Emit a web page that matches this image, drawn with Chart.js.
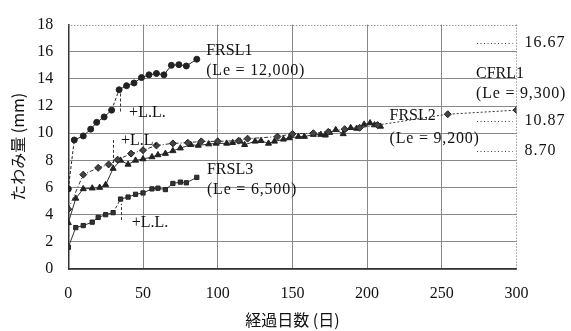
<!DOCTYPE html>
<html><head><meta charset="utf-8">
<script src="https://cdn.jsdelivr.net/npm/chart.js@4/dist/chart.umd.min.js"></script>
<style>html,body{margin:0;padding:0;background:#fff;}#wrap{width:571px;height:331px;}</style>
</head><body><div id="wrap"><canvas id="c" width="571" height="331"></canvas></div>
<script>
// ---- data (days, deflection mm) ----
const xTicks = [0, 50, 100, 150, 200, 250, 300];
const yTicks = [0, 2, 4, 6, 8, 10, 12, 14, 16, 18];

const frsl1Days = [0, 4, 10, 15, 19, 24, 29, 34, 39, 44, 49, 54, 59, 64, 69, 74, 79, 86];
const frsl1Vals = [5.9, 9.5, 9.8, 10.3, 10.8, 11.2, 11.7, 13.2, 13.5, 13.7, 14.1, 14.3, 14.4, 14.3, 15.0, 15.05, 14.95, 15.45];

const frsl3Days = [0, 5, 10, 16, 20, 25, 30, 35, 40, 45, 50, 56, 60, 65, 70, 75, 79, 86];
const frsl3Vals = [1.6, 3.05, 3.2, 3.45, 3.8, 4.0, 4.15, 5.15, 5.3, 5.5, 5.6, 5.9, 5.95, 5.85, 6.3, 6.4, 6.35, 6.75];

const frsl2Days = [0, 5, 10, 16, 21, 25, 30, 35, 40, 45, 50, 56, 60, 65, 70, 75, 82, 87, 94, 99, 106, 110, 115, 118, 125, 129, 134, 138, 144, 148, 154, 158, 164, 169, 172, 175, 179, 184, 189, 193, 198, 202, 205, 209];
const frsl2Vals = [3.4, 5.2, 5.9, 5.95, 6.0, 6.2, 7.4, 8.0, 7.7, 8.0, 8.1, 8.25, 8.4, 8.5, 8.7, 8.9, 9.15, 9.1, 9.2, 9.25, 9.25, 9.3, 9.4, 9.15, 9.4, 9.45, 9.25, 9.4, 9.55, 9.65, 9.75, 9.75, 9.9, 9.9, 9.85, 10.05, 10.25, 9.95, 10.4, 10.35, 10.65, 10.75, 10.6, 10.5];

const cfrl1Days = [0, 10, 20, 27, 33, 42, 50, 59, 70, 80, 89, 100, 114, 120, 140, 150, 164, 174, 185, 195, 207, 254, 300];
const cfrl1Vals = [4.4, 6.95, 7.45, 7.7, 8.05, 8.5, 8.75, 9.1, 9.25, 9.3, 9.4, 9.4, 9.45, 9.6, 9.75, 9.95, 10.0, 10.1, 10.3, 10.4, 10.6, 11.4, 11.7];

const seriesNames = ['FRSL1', 'FRSL2', 'FRSL3', 'CFRL1'];
const leLabels = ['(Le = 12,000)', '(Le = 9,200)', '(Le = 6,500)', '(Le = 9,300)'];

const refValues = [16.67, 10.87, 8.70];
const refLabels = ['16.67', '10.87', '8.70'];

const llLabel = '+L.L.';

const xTitle = '経過日数 (日)';
const yTitle = 'たわみ量 (mm)';

// ---- annotation placement (data coordinates) ----
const namePos = [[92.3, 16.04, 14.58], [215, 11.32, 9.62], [92.8, 7.29, 5.83], [272.9, 14.38, 12.92]];
const llPos = [ // [lineDay, fromVal, toVal, textDay, textVal]
  [34.7, 11.6, 12.95, 40.7, 11.5],
  [30.0, 7.45, 9.5, 35.3, 9.45],
  [35.3, 3.6, 4.8, 42.4, 3.4]
];
const refSpan = [273.6, 297.4];

const pts = (d, v) => d.map((x, i) => ({x, y: v[i]}));
const SERIF = "'Liberation Serif', 'DejaVu Serif', serif";
const CJK = "'Noto Sans CJK JP', sans-serif";

const annot = {
  id: 'annot',
  beforeDatasetsDraw(chart) {
    const {ctx, chartArea: a} = chart;
    ctx.save();
    ctx.strokeStyle = '#666';
    ctx.lineWidth = 1;
    ctx.setLineDash([1, 2]);
    ctx.beginPath();
    ctx.moveTo(a.left, Math.round(a.top) + 0.5);
    ctx.lineTo(a.right, Math.round(a.top) + 0.5);
    ctx.moveTo(Math.round(a.right) - 0.5, a.top);
    ctx.lineTo(Math.round(a.right) - 0.5, a.bottom);
    ctx.stroke();
    ctx.restore();
  },
  afterDatasetsDraw(chart) {
    const {ctx, chartArea: a, scales: {x, y}} = chart;
    ctx.save();
    ctx.fillStyle = '#111';
    ctx.strokeStyle = '#333';
    ctx.lineWidth = 1;
    ctx.textBaseline = 'middle';
    ctx.textAlign = 'left';
    ctx.font = '16px ' + SERIF;
    // reference lines + right labels
    ctx.setLineDash([1, 2.5]);
    refValues.forEach((v, i) => {
      const py = Math.round(y.getPixelForValue(v)) + 0.5;
      ctx.beginPath();
      ctx.moveTo(x.getPixelForValue(refSpan[0]), py);
      ctx.lineTo(x.getPixelForValue(refSpan[1]), py);
      ctx.stroke();
      ctx.letterSpacing = '1px';
      ctx.fillText(refLabels[i], a.right + 8, py - 1);
      ctx.letterSpacing = '0px';
    });
    // L.L. markers
    ctx.setLineDash([3, 2]);
    llPos.forEach(p => {
      const px = Math.round(x.getPixelForValue(p[0])) + 0.5;
      ctx.beginPath();
      ctx.moveTo(px, y.getPixelForValue(p[1]));
      ctx.lineTo(px, y.getPixelForValue(p[2]));
      ctx.stroke();
      ctx.fillText(llLabel, x.getPixelForValue(p[3]), y.getPixelForValue(p[4]));
    });
    // series names
    seriesNames.forEach((n, i) => {
      const p = namePos[i];
      ctx.letterSpacing = '0px';
      ctx.fillText(n, x.getPixelForValue(p[0]), y.getPixelForValue(p[1]));
      ctx.letterSpacing = '0.8px';
      ctx.fillText(leLabels[i], x.getPixelForValue(p[0]), y.getPixelForValue(p[2]));
    });
    ctx.restore();
  }
};

new Chart(document.getElementById('c'), {
  type: 'line',
  data: {
    datasets: [
      {
        label: seriesNames[0], data: pts(frsl1Days, frsl1Vals),
        borderColor: '#222', borderWidth: 1, pointStyle: 'circle', pointRadius: 3,
        pointBackgroundColor: '#222', pointBorderColor: '#222',
        segment: { borderDash: c => (c.p0DataIndex === 0 || c.p0DataIndex === 6) ? [3, 2] : undefined }
      },
      {
        label: seriesNames[3], data: pts(cfrl1Days, cfrl1Vals),
        borderColor: '#333', borderWidth: 1, borderDash: [4, 2, 1, 2], pointStyle: 'rectRot', pointRadius: 3.5,
        pointBackgroundColor: '#444', pointBorderColor: '#222',
        segment: { borderDash: c => c.p0DataIndex >= 20 ? [2, 2] : undefined }
      },
      {
        label: seriesNames[1], data: pts(frsl2Days, frsl2Vals),
        borderColor: '#333', borderWidth: 1, pointStyle: 'triangle', pointRadius: 3.5,
        pointBackgroundColor: '#222', pointBorderColor: '#222'
      },
      {
        label: seriesNames[2], data: pts(frsl3Days, frsl3Vals),
        borderColor: '#333', borderWidth: 1, pointStyle: 'rect', pointRadius: 3,
        pointBackgroundColor: '#333', pointBorderColor: '#222',
        segment: { borderDash: c => c.p0DataIndex === 6 ? [3, 2] : undefined }
      }
    ]
  },
  options: {
    responsive: false, animation: false, devicePixelRatio: 1,
    layout: { padding: { top: 10, right: 54.5, left: 0, bottom: 0 } },
    plugins: { legend: { display: false }, tooltip: { enabled: false } },
    scales: {
      x: {
        type: 'linear', min: 0, max: 300,
        afterBuildTicks: s => { s.ticks = xTicks.map(v => ({value: v})); },
        afterFit: s => { s.height = 62; },
        grid: { color: c => c.tick && c.tick.value === 300 ? 'rgba(0,0,0,0)' : '#888', drawTicks: false, lineWidth: 1 },
        border: { color: '#333', width: 1.5 },
        ticks: { padding: 15, color: '#111', font: { family: SERIF, size: 16 }, maxRotation: 0 },
        title: { display: true, text: xTitle, color: '#111', font: { family: CJK, size: 16 }, padding: { top: 0, bottom: 1.5 } }
      },
      y: {
        type: 'linear', min: 0, max: 18,
        afterBuildTicks: s => { s.ticks = yTicks.map(v => ({value: v})); },
        afterFit: s => { s.width = 68.3; },
        grid: { color: c => c.tick && c.tick.value === 18 ? 'rgba(0,0,0,0)' : '#888', drawTicks: false, lineWidth: 1 },
        border: { color: '#333', width: 1.5 },
        ticks: { padding: 15, color: '#111', font: { family: SERIF, size: 16 } },
        title: { display: true, text: yTitle, color: '#111', font: { family: CJK, size: 16 }, padding: { top: 8, bottom: 0 } }
      }
    }
  },
  plugins: [annot]
});
</script>
</body></html>
